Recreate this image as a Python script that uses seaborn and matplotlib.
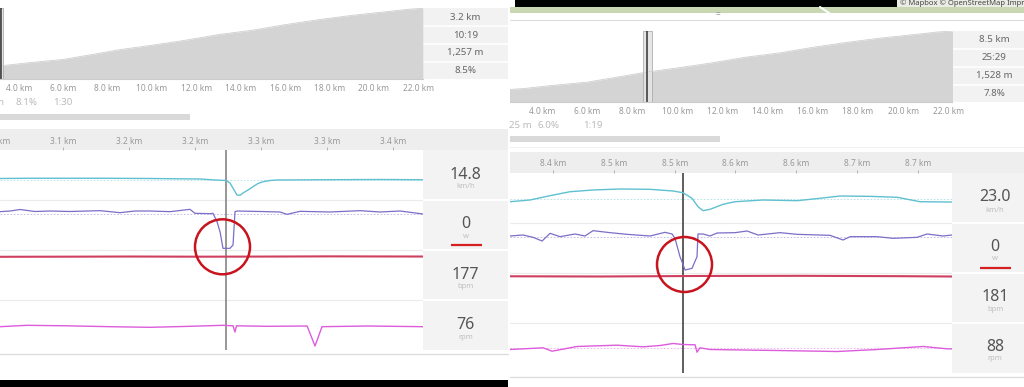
import numpy as np
import pandas as pd
import matplotlib
matplotlib.use("Agg")
import matplotlib.pyplot as plt
import seaborn as sns
from matplotlib.patches import Rectangle, Circle
from matplotlib.transforms import Bbox, TransformedBbox

# ---------------- data ----------------
# elevation profile (overview charts)
elev_km = [2.5, 3.2, 4.5, 6.0, 7.5, 8.5, 10.0, 11.5, 13.0, 14.5, 16.0, 17.5, 19.0, 20.5, 21.5, 22.2]
elev_m = [1239, 1257, 1311, 1365, 1461, 1528, 1606, 1690, 1787, 1859, 1955, 2039, 2112, 2172, 2214, 2232]
ov_ticks = [4.0, 6.0, 8.0, 10.0, 12.0, 14.0, 16.0, 18.0, 20.0, 22.0]
ov_labels = ["4.0 km", "6.0 km", "8.0 km", "10.0 km", "12.0 km", "14.0 km",
             "16.0 km", "18.0 km", "20.0 km", "22.0 km"]
ov_edge_tick, ov_edge_label = 2.0, "2.0 km"

# ---- left screenshot: detail around 3.2 km (distance in metres) ----
L_speed_x = [3052.0, 3074.7, 3127.8, 3165.6, 3203.5, 3214.9, 3223.2, 3226.2, 3229.3, 3231.5, 3233.8,
             3236.1, 3239.9, 3243.6, 3247.4, 3251.2, 3256.5, 3261.8, 3294.4, 3339.9, 3372.4]
L_speed = [14.6, 14.7, 14.7, 14.6, 14.4, 14.0, 13.8, 12.8, 10.0, 8.0, 7.9,
           8.8, 10.0, 11.3, 12.6, 13.3, 13.8, 14.0, 14.1, 14.2, 14.1]
L_power_x = [3052.0, 3059.6, 3067.2, 3078.5, 3089.9, 3105.0, 3127.8, 3142.9, 3154.3, 3165.6, 3180.8,
             3195.9, 3199.7, 3211.1, 3213.3, 3216.4, 3218.7, 3220.9, 3226.2, 3228.5, 3230.0, 3231.5,
             3249.0, 3264.1, 3269.4, 3279.3, 3302.0, 3324.7, 3339.9, 3355.0, 3372.4]
L_power = [220, 224, 233, 221, 224, 221, 226, 214, 224, 224, 220,
           234, 210, 208, 210, 160, 98, 0, 0, 20, 220, 224,
           221, 218, 204, 222, 218, 226, 218, 224, 206]
L_hr_x = [3052.0, 3097.5, 3150.5, 3203.5, 3249.0, 3302.0, 3372.4]
L_hr = [177.1, 177.3, 177.6, 177.3, 177.5, 177.9, 177.6]
L_cad_x = [3052.0, 3072.5, 3102.8, 3135.3, 3165.6, 3190.6, 3220.9, 3228.5, 3230.0, 3231.1,
           3254.3, 3284.6, 3290.6, 3295.9, 3330.0, 3372.4]
L_cad = [74.6, 79.0, 77.4, 74.6, 72.6, 75.2, 79.0, 77.4, 57.6, 77.4,
         75.8, 76.8, 12.8, 74.6, 76.8, 74.6]
L_avg = [14.2, 206, None, None]
L_cursor_m = 3223.2
L_ticks = [3100, 3150, 3200, 3250, 3300, 3350]
L_ticklabels = ["3.1 km", "3.2 km", "3.2 km", "3.3 km", "3.3 km", "3.4 km"]
L_edge_tick, L_edge_label = 3050, "3.0 km"
L_info_top = ["3.2 km", "10:19", "1,257 m", "8.5%"]
L_values = ["14.8", "0", "177", "76"]
L_stats = ["m", "8.1%", "1:30"]

# ---- right screenshot: detail around 8.5 km ----
R_speed_x = [8364.6, 8381.1, 8397.5, 8414.0, 8432.9, 8455.1, 8479.8, 8498.7, 8506.9, 8514.3, 8519.2,
             8523.4, 8529.1, 8539.8, 8549.7, 8572.7, 8600.7, 8619.6, 8636.0, 8660.7, 8682.9, 8701.8, 8728.1]
R_speed = [19.15, 19.9, 21.8, 23.55, 24.3, 24.74, 24.6, 23.86, 23.1, 20.65, 16.95,
           15.2, 15.8, 18.0, 19.15, 19.9, 19.6, 20.65, 21.66, 21.5, 21.1, 19.15, 19.0]
R_power_x = [8364.6, 8375.3, 8383.6, 8391.0, 8397.5, 8405.8, 8418.1, 8426.3, 8432.9, 8446.9, 8460.9,
             8479.8, 8492.1, 8497.9, 8500.3, 8504.4, 8508.6, 8514.3, 8518.4, 8519.2, 8523.4, 8529.1,
             8534.9, 8549.7, 8559.5, 8568.6, 8586.7, 8600.7, 8627.8, 8638.5, 8644.3, 8666.5, 8679.6,
             8699.4, 8707.6, 8720.7, 8728.1]
R_power = [204, 210, 196, 174, 220, 200, 216, 204, 236, 224, 214,
           204, 226, 216, 190, 80, 0, 10, 80, 216, 216, 204,
           222, 224, 234, 210, 224, 214, 208, 180, 200, 200, 190,
           196, 216, 204, 210]
R_hr_x = [8364.6, 8438.7, 8520.9, 8603.1, 8685.4, 8728.1]
R_hr = [182.8, 182.4, 183.4, 183.7, 183.0, 182.4]
R_cad_x = [8364.6, 8391.8, 8399.2, 8419.7, 8452.6, 8474.0, 8488.0, 8498.7, 8506.9, 8516.8, 8518.4,
           8520.9, 8529.1, 8584.2, 8633.6, 8666.5, 8704.3, 8724.0, 8728.1]
R_cad = [73.6, 79.0, 68.2, 83.2, 87.4, 82.2, 86.4, 92.8, 89.6, 88.6, 65.0,
         79.0, 73.6, 70.4, 67.2, 73.6, 83.2, 75.8, 75.8]
R_avg = [20.2, 196, None, 77.8]
R_cursor_m = 8506.9
R_ticks = [8400, 8450, 8500, 8550, 8600, 8650, 8700]
R_ticklabels = ["8.4 km", "8.5 km", "8.5 km", "8.6 km", "8.6 km", "8.7 km", "8.7 km"]
R_info_top = ["8.5 km", "25:29", "1,528 m", "7.8%"]
R_values = ["23.0", "0", "181", "88"]
R_stats = ["25 m", "6.0%", "1:19"]

units = ["km/h", "w", "bpm", "rpm"]
colors = ["#5fc0d0", "#7b6ec8", "#cf3f5f", "#dc5cdc"]
widths = [1.0, 0.9, 1.5, 1.0]
row_ylims_L = [(6, 26), (-10, 290), (95, 190), (0, 160)]
row_ylims_R = [(10, 32), (-15, 285), (95, 190), (0, 160)]

# ---------------- figure ----------------
sns.set_style("white")
plt.rcParams['font.family'] = ['Noto Sans', 'DejaVu Sans']

W, H = 1024, 387
fig = plt.figure(figsize=(W / 100, H / 100), dpi=100)


def box(x0, y0, x1, y1):
    return [x0 / W, 1 - y1 / H, (x1 - x0) / W, (y1 - y0) / H]


def clip_to(x0, x1):
    return TransformedBbox(Bbox([[x0 / W, 0], [x1 / W, 1]]), fig.transFigure)


def edge_label(ax, x, text, top, pad_pt, clip=None):
    if top:
        xy, off, va = (x, 1), (0, pad_pt), 'bottom'
    else:
        xy, off, va = (x, 0), (0, -pad_pt), 'top'
    a = ax.annotate(text, xy=xy, xycoords=('data', 'axes fraction'), xytext=off,
                    textcoords='offset points', ha='center', va=va, fontsize=6,
                    color='#999999', annotation_clip=False)
    if clip is not None:
        a.set_clip_box(clip)
        a.set_clip_on(True)
    return a


bg = fig.add_axes([0, 0, 1, 1])
bg.set_xlim(0, W)
bg.set_ylim(H, 0)
bg.axis('off')


def rect(ax, x0, y0, x1, y1, c):
    ax.add_patch(Rectangle((x0, y0), x1 - x0, y1 - y0, facecolor=c, edgecolor='none', lw=0))


# background decorations
rect(bg, 423, 8.3, 508, 79.3, '#f2f2f2')
rect(bg, 952, 31, 1024, 102, '#f2f2f2')
for yy in (26, 44, 62):
    bg.plot([423, 508], [yy, yy], color='white', lw=1.2)
for yy in (49, 66.5, 84.5):
    bg.plot([952, 1024], [yy, yy], color='white', lw=1.2)
rect(bg, 0, 114, 190, 119.5, '#d9d9d9')
rect(bg, 510, 136, 720, 141.7, '#d9d9d9')
rect(bg, 0, 129, 508, 150, '#eeeeee')
rect(bg, 510, 151.7, 1024, 172.5, '#eeeeee')
rect(bg, 423, 150, 508, 350, '#f3f3f3')
rect(bg, 952, 172.5, 1024, 372.5, '#f3f3f3')
for yy in (200, 250, 300):
    bg.plot([423, 508], [yy, yy], color='white', lw=1.5)
for yy in (222.5, 272.5, 322.5):
    bg.plot([952, 1024], [yy, yy], color='white', lw=1.5)
bg.plot([0, 508], [354, 354], color='#dddddd', lw=1)
bg.plot([510, 1024], [377, 377], color='#dddddd', lw=1)
bg.plot([510, 1024], [19.5, 19.5], color='#dddddd', lw=0.8)
bg.plot([510, 1024], [146.5, 146.5], color='#f0f0f0', lw=0.8)
rect(bg, 0, 380, 508, 387, '#000000')
rect(bg, 510, 7, 1024, 13, '#c9d8b2')
bg.plot([820, 829], [7, 13], color='white', lw=1.5)
rect(bg, 897, 0, 1024, 7, '#ecece6')
rect(bg, 515, 0, 897, 7, '#000000')
bg.text(900, 3.0, "\u00a9 Mapbox \u00a9 OpenStreetMap Improve this map", fontsize=5.5,
        color='#444444', va='center', ha='left')
bg.text(718, 15, "=", fontsize=6, color='#999999', ha='center', va='center')


def overview(x0, x1, y0, y1, xlim, cursor, band, edge=False, clip=None):
    ax = fig.add_axes(box(x0, y0, x1, y1))
    ax.fill_between(elev_km, elev_m, 1000, color='#d4d4d4', lw=0)
    sns.lineplot(x=elev_km, y=elev_m, ax=ax, color='#cfcfcf', lw=0.6, estimator=None)
    ax.axvspan(band[0], band[1], facecolor='#e4e4e4', edgecolor='#a8a8a8', lw=0.6, alpha=0.9)
    ax.axvline(cursor, color='#333333', lw=1.1)
    ax.set_yticks([])
    ax.set_xticks(ov_ticks)
    ax.set_xticklabels(ov_labels)
    ax.set_xlim(*xlim)
    ax.set_ylim(1028, 2232)
    ax.tick_params(axis='x', length=0, pad=3.6, labelsize=6, labelcolor='#999999')
    for s in ('left', 'right', 'top'):
        ax.spines[s].set_visible(False)
    ax.spines['bottom'].set_color('#cccccc')
    ax.spines['bottom'].set_linewidth(0.8)
    ax.set_xlabel('')
    ax.set_ylabel('')
    if edge:
        edge_label(ax, ov_edge_tick, ov_edge_label, False, 3.6, clip)
    return ax


overview(0, 423, 8.3, 79.3, (3.153, 22.21), 3.20, (3.153, 3.29))
overview(510, 952, 31, 102, (2.572, 22.17), 8.66, (8.48, 8.88), edge=True, clip=clip_to(510, 1024))


def detail(x0, x1, y0, xlim, ticks, ticklabels, cursor, cursor_c, series, avgs, ylims, edge=None):
    rowh = 50
    fr = fig.add_axes(box(x0, y0, x1, y0 + 4 * rowh))
    for k in (1, 2, 3):
        fr.axhline(k, color='#ebebeb', lw=0.8)
    fr.axvline(cursor, color=cursor_c, lw=1.1)
    fr.xaxis.tick_top()
    fr.set_xticks(ticks)
    fr.set_xticklabels(ticklabels)
    fr.set_xlim(*xlim)
    fr.set_ylim(4, 0)
    fr.tick_params(axis='x', top=True, bottom=False, direction='out', length=2.2, width=0.6,
                   color='#aaaaaa', pad=1.0, labelsize=6, labelcolor='#999999')
    fr.set_yticks([])
    for s in fr.spines.values():
        s.set_visible(False)
    if edge is not None:
        edge_label(fr, edge[0], edge[1], True, 3.2)
    for i, (xs, ys) in enumerate(series):
        ax = fig.add_axes(box(x0, y0 + i * rowh, x1, y0 + (i + 1) * rowh))
        ax.patch.set_visible(False)
        if avgs[i] is not None:
            ax.axhline(avgs[i], color=colors[i], lw=0.6, alpha=0.5, dashes=(2, 2))
        sns.lineplot(x=xs, y=ys, ax=ax, color=colors[i], lw=widths[i], estimator=None, sort=False)
        ax.set_xlim(*xlim)
        ax.set_ylim(*ylims[i])
        ax.axis('off')


detail(0, 423, 150, (3052.0, 3372.4), L_ticks, L_ticklabels, L_cursor_m, '#7a7a7a',
       [(L_speed_x, L_speed), (L_power_x, L_power), (L_hr_x, L_hr), (L_cad_x, L_cad)],
       L_avg, row_ylims_L, edge=(L_edge_tick, L_edge_label))
detail(510, 952, 172.5, (8364.6, 8728.1), R_ticks, R_ticklabels, R_cursor_m, '#333333',
       [(R_speed_x, R_speed), (R_power_x, R_power), (R_hr_x, R_hr), (R_cad_x, R_cad)],
       R_avg, row_ylims_R)

# ---------------- foreground texts ----------------
fg = fig.add_axes([0, 0, 1, 1])
fg.set_xlim(0, W)
fg.set_ylim(H, 0)
fg.axis('off')

for txt, yy in zip(L_info_top, (17, 35, 53, 70.7)):
    fg.text(465.5, yy, txt, fontsize=7, color='#666666', ha='center', va='center')
for txt, yy in zip(R_info_top, (39.3, 57.3, 75.3, 93.3)):
    fg.text(994, yy, txt, fontsize=7, color='#666666', ha='center', va='center')

fg.text(3.5, 102.7, L_stats[0], fontsize=7, color='#bbbbbb', ha='right', va='center')
fg.text(27, 102.7, L_stats[1], fontsize=7, color='#bbbbbb', ha='center', va='center')
fg.text(63, 102.7, L_stats[2], fontsize=7, color='#bbbbbb', ha='center', va='center')
fg.text(509, 125, R_stats[0], fontsize=7, color='#bbbbbb', ha='left', va='center')
fg.text(549, 125, R_stats[1], fontsize=7, color='#bbbbbb', ha='center', va='center')
fg.text(593, 125, R_stats[2], fontsize=7, color='#bbbbbb', ha='center', va='center')

for txt, u, yv, yu in zip(L_values, units, (175, 224.3, 275, 325), (187, 236.7, 286.7, 337.3)):
    fg.text(465.7, yv, txt, fontsize=11.5, color='#555555', ha='center', va='center')
    fg.text(465.7, yu, u, fontsize=5.5, color='#c0c0c0', ha='center', va='center')
for txt, u, yv, yu in zip(R_values, units, (197.3, 246.7, 296.7, 346.7), (210.7, 258, 309.3, 359)):
    fg.text(995, yv, txt, fontsize=11.5, color='#555555', ha='center', va='center')
    fg.text(995, yu, u, fontsize=5.5, color='#c0c0c0', ha='center', va='center')
fg.plot([451, 482], [244.7, 244.7], color='#d42020', lw=1.6, solid_capstyle='butt')
fg.plot([980, 1011], [267.7, 267.7], color='#d42020', lw=1.6, solid_capstyle='butt')

fg.add_patch(Circle((222.5, 246.8), 27.5, fill=False, edgecolor='#c8141e', lw=1.8))
fg.add_patch(Circle((684.5, 264.5), 27.5, fill=False, edgecolor='#c8141e', lw=1.8))

fig.savefig("out.png", dpi=100, facecolor='white')
